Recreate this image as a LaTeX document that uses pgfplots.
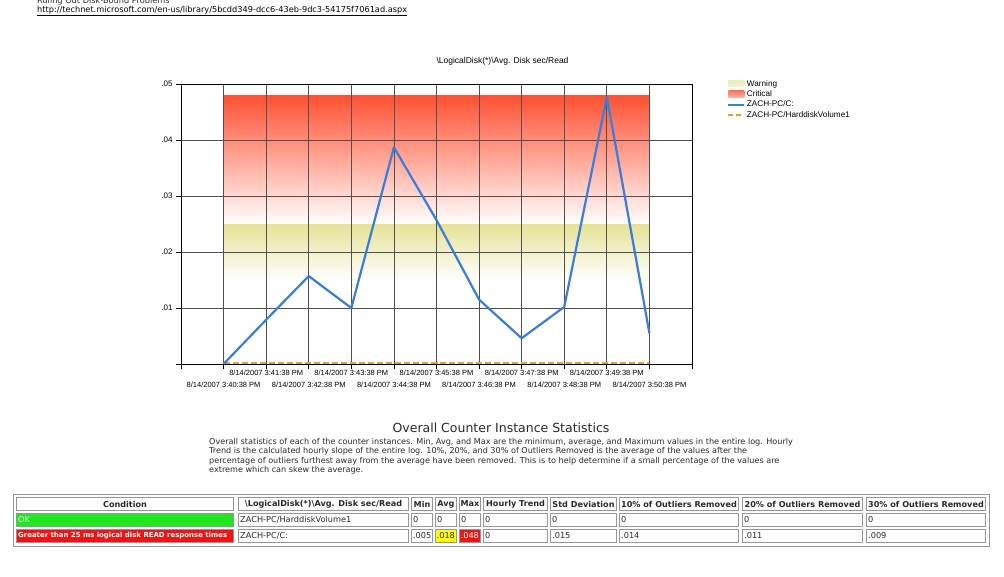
\documentclass[border=0pt]{standalone}
\usepackage{pgfplots}
\pgfplotsset{compat=1.18}
\usepackage{fontspec}
\setmainfont{DejaVu Sans}
\newfontfamily\chartfont{Liberation Sans}

\definecolor{lineBlue}{RGB}{58,125,220}
\definecolor{dashOrange}{RGB}{232,160,40}
\definecolor{critTop}{RGB}{255,80,50}
\definecolor{critMid}{RGB}{250,155,135}
\definecolor{warnTop}{RGB}{230,226,150}
\definecolor{gridGray}{RGB}{80,80,80}
\definecolor{warnSwatch}{RGB}{240,234,190}
\definecolor{critSwatch}{RGB}{246,115,100}
\definecolor{okGreen}{RGB}{34,230,34}
\definecolor{badRed}{RGB}{238,20,20}
\definecolor{hiYellow}{RGB}{255,255,0}
\definecolor{cellLine}{RGB}{150,150,150}
\definecolor{txt}{RGB}{40,40,40}

\newcommand\fs[1]{\fontsize{#1}{#1}\selectfont}

\begin{document}
\begin{tikzpicture}
\path (0,0) rectangle (1004pt,-576pt);

\begin{scope}[x=1pt,y=-1pt,inner sep=0pt]
% page text above the chart (first line cut off at the top)
\begin{scope}
\clip (0,0) rectangle (1004,20);
\node[overlay,anchor=base west,text=txt] at (37,3) {\fs{8.2}Ruling Out Disk-Bound Problems};
\end{scope}
\node[anchor=base west,text=black] at (37,12) {\fs{8.2}\underline{http://technet.microsoft.com/en-us/library/5bcdd349-dcc6-43eb-9dc3-54175f7061ad.aspx}};
% chart title
\node[font=\chartfont\fs{8.5}] at (502.5,61) {\textbackslash LogicalDisk(*)\textbackslash Avg. Disk sec/Read};

% statistics heading and text
\node[text=txt] at (501,428) {\fs{12.5}Overall Counter Instance Statistics};
\begin{scope}[every node/.style={anchor=base west,text=txt,font=\fs{8.1}}]
\node at (209,444) {Overall statistics of each of the counter instances. Min, Avg, and Max are the minimum, average, and Maximum values in the entire log. Hourly};
\node at (209,453.5) {Trend is the calculated hourly slope of the entire log. 10\%, 20\%, and 30\% of Outliers Removed is the average of the values after the};
\node at (209,463) {percentage of outliers furthest away from the average have been removed. This is to help determine if a small percentage of the values are};
\node at (209,472.5) {extreme which can skew the average.};
\end{scope}

% table
\draw[cellLine] (13.5,494.5) rectangle (989.5,546.5);
\foreach \a/\b in {16/234,238/409,411/433,435/457,459/481,483/548,550/617,619/739,742/863,866/986}{
  \draw[cellLine] (\a+0.5,497.5) rectangle (\b-0.5,510.5);
  \draw[cellLine] (\a+0.5,513.5) rectangle (\b-0.5,526.5);
  \draw[cellLine] (\a+0.5,529.5) rectangle (\b-0.5,542.5);
}
\filldraw[draw=cellLine,fill=okGreen] (16.5,513.5) rectangle (233.5,526.5);
\filldraw[draw=cellLine,fill=badRed] (16.5,529.5) rectangle (233.5,542.5);
\filldraw[draw=cellLine,fill=hiYellow] (435.5,529.5) rectangle (456.5,542.5);
\filldraw[draw=cellLine,fill=badRed] (459.5,529.5) rectangle (480.5,542.5);
\begin{scope}[every node/.style={font=\bfseries\fs{8.1},text=txt}]
\node at (125,504) {Condition};
\node at (323.5,504) {\textbackslash LogicalDisk(*)\textbackslash Avg. Disk sec/Read};
\node at (422,504) {Min};
\node at (446,504) {Avg};
\node at (470,504) {Max};
\node at (515.5,504) {Hourly Trend};
\node at (583.5,504) {Std Deviation};
\node at (679,504) {10\% of Outliers Removed};
\node at (802.5,504) {20\% of Outliers Removed};
\node at (926,504) {30\% of Outliers Removed};
\end{scope}
\begin{scope}[every node/.style={font=\fs{8.2},text=txt,anchor=west}]
\node[text=white!85!green] at (18,520) {OK};
\node at (240,520) {ZACH-PC/HarddiskVolume1};
\foreach \a in {413,437,461,485,552,621,744,868}{\node at (\a,520) {0};}
\node[font=\bfseries\fs{6.95},text=white] at (18,536) {Greater than 25 ms logical disk READ response times};
\node at (240,536) {ZACH-PC/C:};
\node[anchor=east] at (431.5,536) {.005};
\node at (436.5,536) {.018};
\node[text=white] at (460.5,536) {.048};
\node at (485,536) {0};
\node at (552,536) {.015};
\node at (621,536) {.014};
\node at (744,536) {.011};
\node at (868,536) {.009};
\end{scope}
\end{scope}

\begin{axis}[
  at={(181pt,-364pt)}, anchor=south west,
  scale only axis, width=511pt, height=280pt,
  set layers,
  xmin=-1, xmax=11, ymin=0, ymax=0.05,
  axis line style={black,line width=0.8pt},
  grid=major,
  major grid style={draw=gridGray,line width=0.8pt},
  tick align=outside, tick pos=left,
  major tick length=5pt,
  tick style={black,line width=0.8pt},
  scaled y ticks=false,
  ytick={0,0.01,0.02,0.03,0.04,0.05},
  yticklabels={,.01,.02,.03,.04,.05},
  xtick={-1,1,3,5,7,9,11},
  xticklabels={,
    8/14/2007 3:41:38 PM,8/14/2007 3:43:38 PM,8/14/2007 3:45:38 PM,
    8/14/2007 3:47:38 PM,8/14/2007 3:49:38 PM,},
  extra x ticks={0,2,4,6,8,10},
  extra x tick labels={8/14/2007 3:40:38 PM,8/14/2007 3:42:38 PM,8/14/2007 3:44:38 PM,
    8/14/2007 3:46:38 PM,8/14/2007 3:48:38 PM,8/14/2007 3:50:38 PM},
  extra x tick style={grid=major,xticklabel style={yshift=-11.5pt}},
  xticklabel style={font=\chartfont\fs{7.5},inner sep=1pt},
  yticklabel style={font=\chartfont\fs{8}},
  legend style={at={(1.0685,1.02)},anchor=north west,draw=none,fill=none,
    font=\chartfont\fs{8.2},row sep=0pt,inner sep=0pt,
    nodes={inner sep=1.5pt,draw=none}},
  legend cell align=left,
]
% Critical and Warning bands
\addplot[forget plot,on layer=axis background,draw=none,
  top color=critTop,middle color=critMid,bottom color=white]
  coordinates {(0,0.025) (10,0.025) (10,0.048) (0,0.048)};
\addplot[forget plot,on layer=axis background,draw=none,
  top color=warnTop,bottom color=white]
  coordinates {(0,0.015) (10,0.015) (10,0.025) (0,0.025)};

% ZACH-PC/HarddiskVolume1
\addplot[forget plot,dashOrange,line width=2pt,dash pattern=on 6pt off 3pt]
  coordinates {(0,0.0002) (1,0.0002) (2,0.0002) (3,0.0002) (4,0.0002) (5,0.0002)
    (6,0.0002) (7,0.0002) (8,0.0002) (9,0.0002) (10,0.0002)};
% ZACH-PC/C:
\addplot[forget plot,lineBlue,line width=2.2pt,line join=round]
  coordinates {(0,0) (1,0.0079) (2,0.0157) (3,0.0100) (4,0.0387) (5,0.0257)
    (6,0.0115) (7,0.0046) (8,0.0102) (9,0.0477) (10,0.0055)};

\addlegendimage{legend image code/.code={
  \path[draw=none,top color=warnTop!70!white,bottom color=warnSwatch!60!white] (0pt,-3pt) rectangle (16pt,3.5pt);}}
\addlegendentry{Warning}
\addlegendimage{legend image code/.code={
  \path[draw=none,top color=critTop!80!white,bottom color=critSwatch!55!white] (0pt,-3pt) rectangle (16pt,3.5pt);}}
\addlegendentry{Critical}
\addlegendimage{legend image code/.code={
  \path[draw=lineBlue,line width=2.2pt] (0pt,0pt) -- (16pt,0pt);}}
\addlegendentry{ZACH-PC/C:}
\addlegendimage{legend image code/.code={
  \path[draw=dashOrange,line width=2pt,dash pattern=on 5pt off 3pt] (0pt,0pt) -- (16pt,0pt);}}
\addlegendentry{ZACH-PC/HarddiskVolume1}
\end{axis}
\end{tikzpicture}
\end{document}
